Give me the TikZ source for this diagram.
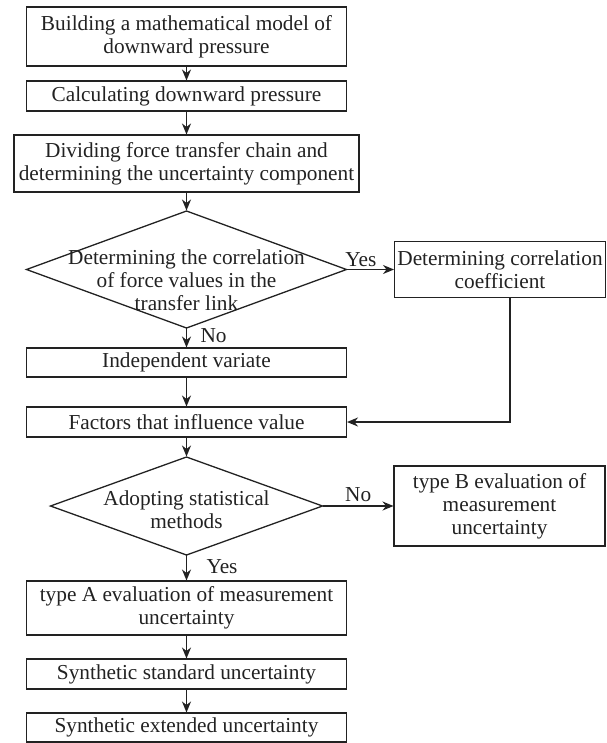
\documentclass[tikz,border=0pt]{standalone}
\usepackage{fontspec}
\setmainfont{Liberation Serif}
\usepackage{tikz}
\usetikzlibrary{shapes.geometric, arrows.meta, positioning}
\definecolor{inkgray}{RGB}{34, 34, 34}

\begin{document}
\begin{tikzpicture}[
    x=1bp, y=1bp,
    node distance=20bp and 48bp,
    every node/.style={font=\fontsize{21.3bp}{23bp}\selectfont, align=center, outer sep=0pt, text=inkgray},
    procbox/.style={draw=inkgray, line width=1.3bp, inner sep=2bp, minimum width=320bp},
    sidebox/.style={draw=inkgray, line width=1.3bp, inner sep=2bp, minimum width=211bp},
    decision/.style={draw=inkgray, diamond, line width=1.3bp, inner sep=0pt},
    dectext/.style={inner sep=0pt},
    answer/.style={inner sep=2bp},
    arr/.style={-{Stealth[length=11bp, width=9bp, inset=3.5bp]}, line width=1.3bp, color=inkgray, shorten >=0.5bp}
]
\useasboundingbox (0,0) rectangle (607,-743);

% Main column (top to bottom)
\node[procbox, minimum height=59bp] (model) at (186.5,-36.5) {Building a mathematical model of\\downward pressure};
\node[procbox, minimum height=30bp, below=15bp of model] (calc) {Calculating downward pressure};
\node[procbox, minimum width=345bp, minimum height=57bp, below=24bp of calc] (chain) {Dividing force transfer chain and\\determining the uncertainty component};
\node[decision, minimum width=320bp, minimum height=117bp, below=19bp of chain] (corrq) {};
\node[dectext] (corrqtext) at ([yshift=-11bp]corrq.center) {Determining the correlation\\of force values in the\\transfer link};
\node[procbox, minimum height=29bp, below=20bp of corrq] (indep) {Independent variate};
\node[procbox, minimum height=30bp, below=30bp of indep] (factors) {Factors that influence value};
\node[decision, minimum width=272bp, minimum height=98bp, below=20bp of factors] (statq) {};
\node[dectext] (statqtext) at ([yshift=-4bp]statq.center) {Adopting statistical\\methods};
\node[procbox, minimum height=54bp, below=26bp of statq] (typea) {type A evaluation of measurement\\uncertainty};
\node[procbox, minimum height=30bp, below=24bp of typea] (synstd) {Synthetic standard uncertainty};
\node[procbox, minimum height=29bp, below=24bp of synstd] (synext) {Synthetic extended uncertainty};

% Side branches
\node[sidebox, minimum height=56bp, right=48bp of corrq] (corrcoef) {Determining correlation\\coefficient};
\node[sidebox, minimum height=80bp, right=71.5bp of statq] (typeb) {type B evaluation of\\measurement\\uncertainty};

% Main column connections
\draw[arr] (model) -- (calc);
\draw[arr] (calc) -- (chain);
\draw[arr] (chain) -- (corrq);
\draw[arr] (corrq) -- node[answer, right=12bp, pos=0.4]{No} (indep);
\draw[arr] (indep) -- (factors);
\draw[arr] (factors) -- (statq);
\draw[arr] (statq) -- node[answer, right=18bp, pos=0.45]{Yes} (typea);
\draw[arr] (typea) -- (synstd);
\draw[arr] (synstd) -- (synext);

% Branch connections
\draw[arr] (corrq.east) -- node[answer, above=1bp, pos=0.3]{Yes} (corrcoef.west);
\draw[arr] ([xshift=10bp]corrcoef.south) |- (factors.east);
\draw[arr] (statq.east) -- node[answer, above=2bp]{No} (typeb.west);

\end{tikzpicture}
\end{document}
